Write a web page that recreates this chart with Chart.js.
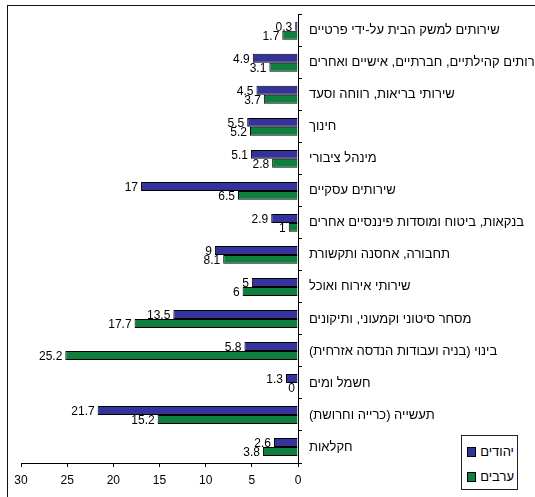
<!DOCTYPE html>
<html lang="he">
<head>
<meta charset="utf-8">
<script src="https://cdn.jsdelivr.net/npm/chart.js@4"></script>
<style>
  body { margin: 0; background: #fff; }
  .wrap { position: relative; width: 535px; height: 497px; overflow: hidden; }
  .wrap canvas { direction: rtl; }
  .frame { position: absolute; left: 7px; top: 5px; width: 600px; height: 600px;
           border-left: 1px solid #111; border-top: 1px solid #111; pointer-events: none; }
  .legend { position: absolute; left: 461px; top: 435px; width: 55px; height: 53px;
            border: 1px solid #222; background: #fff; direction: rtl;
            font: 13px "Liberation Sans", Arial, sans-serif; }
  .legend-row { position: absolute; right: 3px; display: flex; align-items: center; gap: 4px; }
  .legend-sw { width: 7px; height: 8px; border: 1px solid #000; }
</style>
</head>
<body>
<div class="wrap">
  <canvas id="chart" width="535" height="497"></canvas>
  <div class="frame"></div>
  <div class="legend" id="legend"></div>
</div>
<script>
// categories, top to bottom
const categories = [
  'שירותים למשק הבית על-ידי פרטיים',
  'שירותים קהילתיים, חברתיים, אישיים ואחרים',
  'שירותי בריאות, רווחה וסעד',
  'חינוך',
  'מינהל ציבורי',
  'שירותים עסקיים',
  'בנקאות, ביטוח ומוסדות פיננסיים אחרים',
  'תחבורה, אחסנה ותקשורת',
  'שירותי אירוח ואוכל',
  'מסחר סיטוני וקמעוני, ותיקונים',
  'בינוי (בניה ועבודות הנדסה אזרחית)',
  'חשמל ומים',
  'תעשייה (כרייה וחרושת)',
  'חקלאות'
];
const seriesNames = ['יהודים', 'ערבים'];
const jews  = [0.3, 4.9, 4.5, 5.5, 5.1, 17, 2.9, 9, 5, 13.5, 5.8, 1.3, 21.7, 2.6];
const arabs = [1.7, 3.1, 3.7, 5.2, 2.8, 6.5, 1, 8.1, 6, 17.7, 25.2, 0, 15.2, 3.8];
const xTicks = [0, 5, 10, 15, 20, 25, 30];

const colors = ['#333399', '#0f7f3d'];
const FONT = '"Liberation Sans", Arial, sans-serif';

// value labels at the end of each bar
const valueLabels = {
  id: 'valueLabels',
  afterDatasetsDraw(chart) {
    const ctx = chart.ctx;
    ctx.save();
    ctx.font = '12px ' + FONT;
    ctx.fillStyle = '#000';
    ctx.textAlign = 'right';
    ctx.textBaseline = 'middle';
    chart.data.datasets.forEach((ds, i) => {
      chart.getDatasetMeta(i).data.forEach((bar, j) => {
        ctx.fillText(String(ds.data[j]), bar.x - 3, bar.y + 1);
      });
    });
    ctx.restore();
  }
};

new Chart(document.getElementById('chart'), {
  type: 'bar',
  data: {
    labels: categories,
    datasets: [
      { label: seriesNames[0], data: jews,  backgroundColor: colors[0] },
      { label: seriesNames[1], data: arabs, backgroundColor: colors[1] }
    ]
  },
  options: {
    indexAxis: 'y',
    responsive: false,
    animation: false,
    events: [],
    layout: { padding: { left: 21, top: 13, right: 0, bottom: 0 } },
    datasets: {
      bar: { categoryPercentage: 0.56, barPercentage: 1, borderColor: '#000', borderWidth: 1 }
    },
    plugins: { legend: { display: false }, tooltip: { enabled: false } },
    scales: {
      x: {
        reverse: true,
        min: 0,
        max: 30,
        afterBuildTicks: s => { s.ticks = xTicks.map(v => ({ value: v })); },
        afterFit: s => { s.height = 34; },
        grid: { drawOnChartArea: false, tickLength: 4, color: '#000' },
        border: { color: '#000' },
        ticks: { color: '#000', padding: 6, font: { family: FONT, size: 12 } }
      },
      y: {
        position: 'right',
        afterFit: s => { s.width = 237; },
        grid: { drawOnChartArea: false, tickLength: 4, color: '#000', offset: true },
        border: { color: '#000' },
        ticks: { color: '#000', padding: 7, autoSkip: false, font: { family: FONT, size: 13 } }
      }
    }
  },
  plugins: [valueLabels]
});

// legend box
const legend = document.getElementById('legend');
seriesNames.forEach((name, i) => {
  const row = document.createElement('div');
  row.className = 'legend-row';
  row.style.top = (i === 0 ? 8 : 33) + 'px';
  row.innerHTML = '<span>' + name + '</span><span class="legend-sw" style="background:' + colors[i] + '"></span>';
  legend.appendChild(row);
});
</script>
</body>
</html>
